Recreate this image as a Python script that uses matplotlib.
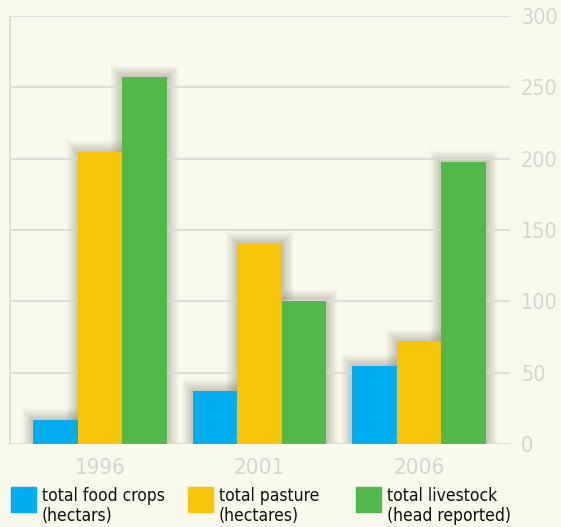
import numpy as np
import matplotlib
matplotlib.use("Agg")
import matplotlib.pyplot as plt
from matplotlib.patches import Rectangle

years = ["1996", "2001", "2006"]
food_crops = [17, 37, 55]
pasture = [205, 141, 72]
livestock = [257, 100, 198]
series_labels = ["total food crops\n(hectars)", "total pasture\n(hectares)",
                 "total livestock\n(head reported)"]
colors = ["#00aeef", "#f7c40a", "#52b84a"]
y_ticks = [0, 50, 100, 150, 200, 250, 300]

bg = "#f9f9ec"
plt.rcParams["font.family"] = ["DejaVu Sans"]
plt.rcParams["font.stretch"] = "condensed"

fig = plt.figure(figsize=(5.61, 5.27), dpi=100, facecolor=bg)
ax = fig.add_axes([10 / 561, 83 / 527, 500 / 561, 428 / 527])
ax.set_facecolor(bg)

x = np.arange(len(years))
w = 0.279
series = [food_crops, pasture, livestock]
offsets = [-w, 0, w]

# soft shadow behind the bars
for vals, off in zip(series, offsets):
    for lw in range(1, 18, 1):
        ax.bar(x + off, vals, w, color="none", edgecolor=(0.3, 0.28, 0.2, 0.016),
               linewidth=lw, zorder=1)

for vals, off, c in zip(series, offsets, colors):
    ax.bar(x + off, vals, w, color=c, zorder=3)

ax.set_ylim(0, 300)
ax.set_xlim(-0.564, 2.57)
ax.set_yticks(y_ticks)
ax.yaxis.grid(True, color="#d9d9d4", linewidth=1.2, zorder=2)
for gl in ax.get_ygridlines():
    gl.set_zorder(2)
ax.yaxis.tick_right()
ax.tick_params(axis="y", length=0, pad=8, labelsize=15.5, labelcolor="#d4d4d0")
ax.set_xticks(x)
ax.set_xticklabels(years)
ax.tick_params(axis="x", length=0, pad=10, labelsize=16, labelcolor="#d4d4d0")
for s in ["top", "right", "bottom"]:
    ax.spines[s].set_visible(False)
ax.spines["left"].set_color("#d9d9d4")
ax.spines["left"].set_linewidth(1.2)

# legend
W, H = 561, 527
lx = [11, 188, 356]
for px, c, lab in zip(lx, colors, series_labels):
    fig.add_artist(Rectangle((px / W, (H - 512) / H), 25 / W, 25 / H,
                             transform=fig.transFigure, color=c))
    fig.text((px + 31) / W, (H - 506) / H, lab, fontsize=12.5, color="#111111",
             va="center", ha="left", linespacing=1.1)

fig.savefig("out.png", dpi=100, facecolor=bg)
